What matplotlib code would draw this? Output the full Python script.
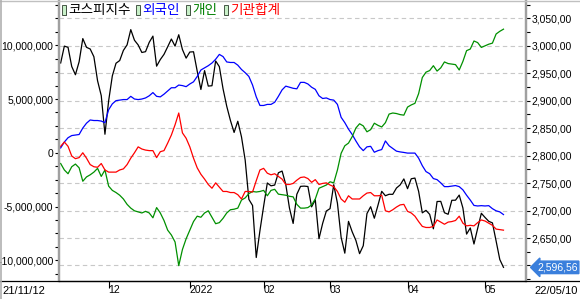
import matplotlib
matplotlib.use('Agg')
import matplotlib.pyplot as plt
import matplotlib.ticker as mticker
from matplotlib.patches import Rectangle
import numpy as np
import pandas as pd

# trading days (KRX holidays removed)
start_date = '2021-11-12'
end_date = '2022-05-10'
holidays = ['2021-12-31', '2022-01-31', '2022-02-01', '2022-02-02',
            '2022-03-01', '2022-03-09', '2022-05-05']

legend_names = ['코스피지수', '외국인', '개인', '기관합계']

kospi = [2968.80, 2999.52, 2997.33, 2962.42, 2947.38, 2971.02, 3013.25, 2997.33, 2994.29, 2980.27,
         2936.44, 2909.32, 2839.01, 2899.72, 2945.27, 2968.33, 2973.25, 2991.72, 3001.80, 3029.57,
         3010.23, 3001.66, 2987.95, 2989.39, 3006.41, 3017.73, 2963.00, 2975.03, 2984.48, 2998.32,
         3012.43, 2999.55, 3020.24, 2993.29, 2977.65, 2988.77, 2989.24, 2953.97, 2920.53, 2954.89,
         2926.72, 2927.38, 2972.48, 2962.09, 2921.92, 2890.10, 2864.24, 2842.28, 2862.68, 2834.29,
         2792.00, 2720.39, 2709.24, 2614.49, 2663.34, 2707.82, 2750.26, 2745.06, 2746.47, 2768.85,
         2771.93, 2747.71, 2704.48, 2676.54, 2729.68, 2744.09, 2744.52, 2743.80, 2706.79, 2719.53,
         2648.80, 2676.76, 2699.18, 2703.52, 2747.08, 2713.43, 2651.31, 2622.40, 2680.32, 2661.28,
         2645.65, 2621.53, 2636.01, 2694.51, 2707.02, 2686.05, 2710.00, 2735.05, 2726.99, 2729.66,
         2729.56, 2741.07, 2746.74, 2757.65, 2739.85, 2757.90, 2759.20, 2735.05, 2695.86, 2700.39,
         2693.10, 2666.76, 2716.48, 2716.71, 2696.06, 2693.21, 2718.69, 2718.89, 2728.21, 2704.71,
         2657.13, 2668.31, 2639.06, 2667.49, 2695.05, 2687.45, 2680.46, 2677.57, 2644.51, 2610.81,
         2596.56]

# cumulative net buying, millions
foreign = [0.45, 1.0, 1.4, 1.6, 1.65, 1.7, 2.3, 2.75, 3.05, 3.0,
           3.0, 2.95, 2.8, 4.0, 4.55, 4.85, 4.9, 4.95, 4.95, 5.25,
           5.0, 4.95, 5.0, 5.1, 5.3, 5.6, 5.25, 5.2, 5.45, 5.75,
           6.05, 6.05, 6.3, 6.25, 6.15, 6.4, 6.6, 7.1, 7.7, 7.9,
           8.1, 8.35, 8.7, 9.15, 8.95, 8.45, 8.4, 8.4, 8.15, 7.75,
           7.45, 7.1, 6.3, 5.2, 4.4, 4.4, 4.5, 4.5, 4.7, 5.25,
           5.85, 6.2, 6.1, 6.0, 5.95, 6.55, 6.55, 6.4, 6.1, 5.9,
           5.3, 5.05, 5.1, 4.95, 4.9, 4.5, 3.3, 2.8, 2.2, 1.7,
           1.1, 0.55, 0.2, 0.55, 0.6, 0.05, 0.2, 0.3, 1.1, 0.65,
           0.4, 0.15, 0.08, 0.03, -0.03, -0.03, -0.03, -0.5, -1.2, -1.75,
           -1.95, -2.4, -2.5, -2.8, -3.15, -3.15, -3.1, -3.05, -3.15, -3.45,
           -3.95, -4.4, -4.9, -4.95, -4.92, -4.95, -4.92, -5.2, -5.4, -5.5,
           -5.75]

individual = [-1.0, -1.6, -1.95, -1.3, -1.05, -1.4, -2.65, -2.25, -2.05, -1.8,
              -1.45, -2.2, -1.6, -3.1, -3.5, -3.7, -3.95, -4.3, -4.8, -5.15,
              -5.4, -5.5, -5.6, -5.45, -5.6, -6.05, -5.1, -5.6, -6.3, -7.2,
              -7.65, -8.3, -10.5, -9.0, -8.0, -7.2, -6.4, -5.9, -6.0, -5.6,
              -5.4, -6.0, -6.6, -6.5, -6.1, -5.6, -5.3, -5.25, -5.15, -4.4,
              -4.2, -3.8, -3.6, -3.65, -3.6, -3.5, -4.0, -3.5, -3.4, -3.85,
              -3.9, -3.95, -4.05, -4.1, -4.8, -5.15, -5.15, -5.1, -4.85, -4.3,
              -3.3, -3.15, -3.0, -2.7, -2.8, -1.6, -0.05, 0.65, 0.9, 1.5,
              2.3, 2.7, 2.5, 1.95, 2.15, 2.75, 2.55, 2.4, 2.8, 3.6,
              3.7, 3.65, 3.55, 3.5, 4.25, 4.45, 4.6, 5.5, 7.0, 7.5,
              7.65, 8.1, 7.6, 7.9, 8.45, 8.3, 8.25, 8.2, 7.7, 8.5,
              9.5, 9.65, 10.4, 10.25, 9.8, 9.95, 10.1, 10.2, 11.05, 11.3,
              11.5]

institution = [0.6, 1.0, 0.6, -0.3, -0.55, -0.45, 0.0, -0.5, -1.1, -1.3,
               -1.35, -1.0, -1.6, -1.8, -1.8, -1.8, -1.6, -1.5, -1.1, -0.5,
               0.0, 0.55, 0.35, 0.25, 0.2, 0.2, -0.45, 0.1, 0.2, 0.9,
               1.65, 2.6, 3.7, 1.85, 1.35, 0.55, -0.5, -1.4, -2.0, -2.45,
               -2.95, -3.3, -2.8, -3.2, -3.6, -3.6, -3.7, -3.7, -3.9, -4.3,
               -3.6, -3.6, -3.65, -2.6, -1.6, -1.45, -1.9, -2.05, -1.95, -2.2,
               -2.45, -2.95, -2.95, -2.85, -2.55, -2.3, -2.25, -2.4, -2.75, -2.5,
               -2.95, -2.85, -2.8, -3.0, -3.15, -3.6, -4.3, -4.6, -4.0, -4.3,
               -4.3, -4.3, -4.0, -3.75, -3.7, -4.0, -4.0, -3.95, -5.4, -5.5,
               -5.3, -5.05, -4.85, -4.8, -5.45, -5.6, -5.9, -6.4, -6.85, -6.95,
               -6.95, -6.85, -6.25, -6.45, -6.65, -6.45, -6.4, -6.3, -5.9, -6.55,
               -6.8, -6.75, -6.8, -6.5, -6.25, -6.35, -6.55, -6.75, -7.1, -7.15,
               -7.2]

dates = pd.bdate_range(start_date, end_date)
dates = dates[~dates.isin(pd.to_datetime(holidays))]
x = np.arange(len(dates))

W, H = 580, 299
fig = plt.figure(figsize=(W / 100, H / 100), dpi=100)
ax = fig.add_axes([59 / W, 18 / H, 467 / W, 280 / H])
ax2 = ax.twinx()
ax.set_zorder(ax2.get_zorder() + 1)
ax.patch.set_visible(False)

num_font = 'Liberation Sans'
fs = 7.5
lw = 0.9

ax.plot(x, np.array(foreign) * 1e6, color='#0000ff', lw=lw)
ax.plot(x, np.array(individual) * 1e6, color='#009000', lw=lw)
ax.plot(x, np.array(institution) * 1e6, color='#ff0000', lw=lw)
ax2.plot(x, kospi, color='black', lw=lw)

ax.set_xlim(-0.45, 126.1)
ax.set_ylim(-11.93e6, 14.12e6)
ax2.set_ylim(2571.7, 3081.7)

# left axis
ax.yaxis.set_major_locator(mticker.MultipleLocator(5e6))
ax.yaxis.set_minor_locator(mticker.MultipleLocator(1.25e6))
ax.yaxis.set_major_formatter(mticker.FuncFormatter(lambda v, p: '{:,.0f}'.format(v)))
ax.tick_params(axis='y', which='both', length=3, width=0.8, pad=1, labelsize=fs)
for lb in ax.get_yticklabels():
    lb.set_family(num_font)

# right axis
ax2.yaxis.set_major_locator(mticker.MultipleLocator(50))
ax2.yaxis.set_minor_locator(mticker.MultipleLocator(25))
ax2.yaxis.set_major_formatter(mticker.FuncFormatter(
    lambda v, p: '' if v < 2625 else '{:,.2f}'.format(v).replace('.', ',')))
ax2.tick_params(axis='y', which='both', length=3, width=0.8, pad=1, labelsize=fs)
for lb in ax2.get_yticklabels():
    lb.set_family(num_font)
ax2.grid(axis='y', which='major', color='#c8c8c8', ls=(0, (4, 3)), lw=0.8)

# x axis: first trading day of each month
month_first = [i for i in range(1, len(dates)) if dates[i].month != dates[i - 1].month]
month_labels = [str(dates[i].year) if dates[i].month == 1 else dates[i].strftime('%m') for i in month_first]
ax.set_xticks(month_first)
ax.set_xticklabels(month_labels, ha='left', family=num_font, fontsize=fs)
ax.tick_params(axis='x', length=5, width=0.8, pad=-2)
ax2.tick_params(axis='x', length=0)

for a in (ax, ax2):
    a.spines['top'].set_visible(False)
    a.spines['bottom'].set_color('black')
    a.spines['left'].set_color('#a0a0a0')
    a.spines['right'].set_color('#a0a0a0')
    a.spines['left'].set_linewidth(1.6)
    a.spines['right'].set_linewidth(1.6)

# frame lines of the window
fig.add_artist(plt.Line2D([0, 1], [18 / H, 18 / H], color='black', lw=0.9))
fig.add_artist(plt.Line2D([0, 1], [1 - 0.5 / H, 1 - 0.5 / H], color='#c0c0c0', lw=1))
fig.add_artist(plt.Line2D([0.5 / W, 0.5 / W], [0, 1], color='#b0b0b0', lw=1.2))

fig.text(2 / W, 8 / H, dates[0].strftime('%y/%m/%d'), ha='left', va='center',
         family=num_font, fontsize=fs + 0.5)
fig.text(578 / W, 8 / H, dates[-1].strftime('%y/%m/%d'), ha='right', va='center',
         family=num_font, fontsize=fs + 0.5)

# last value box
ax2.annotate('{:,.2f}'.format(kospi[-1]).replace('.', ','), xy=(1, kospi[-1]),
             xycoords=('axes fraction', 'data'), xytext=(8, 0), textcoords='offset points',
             ha='left', va='center', color='white', family=num_font, fontsize=fs,
             bbox=dict(boxstyle='larrow,pad=0.12', fc='#3a7fdc', ec='#3a7fdc'))

# legend
legend_colors = ['black', '#0000ff', '#008000', '#ff0000']
legend_x = [68, 142, 192, 230]
for name, col, lx in zip(legend_names, legend_colors, legend_x):
    fig.add_artist(Rectangle(((lx - 5) / W, 1 - 16 / H), 4 / W, 10 / H,
                             transform=fig.transFigure, fc='#a0a0a0', ec='none'))
    fig.add_artist(Rectangle(((lx - 6) / W, 1 - 15 / H), 4 / W, 10 / H,
                             transform=fig.transFigure, fc='#c8f0c8', ec='#304030', lw=0.6))
    fig.text(lx / W, 1 - 10 / H, name, color=col, ha='left', va='center',
             family=['Noto Sans CJK KR', 'DejaVu Sans'], fontsize=9.8)

fig.savefig('out.png', dpi=100)
